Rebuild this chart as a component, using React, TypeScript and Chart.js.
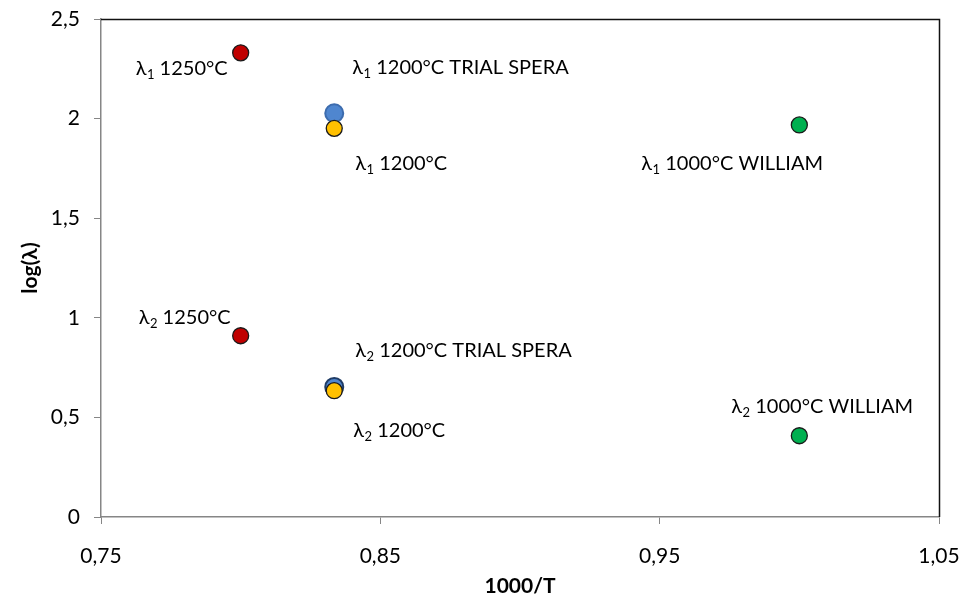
import React, { useEffect, useRef } from "react";
import { Chart, registerables } from "chart.js";

Chart.register(...registerables);

// Series names (temperature / source)
const seriesNames = ["1250°C", "1200°C TRIAL SPERA", "1200°C", "1000°C WILLIAM"];
// 1000/T for each series
const invTemp = [0.8, 0.8335, 0.8335, 1.0];
// log(λ1) and log(λ2) for each series
const logLambda1 = [2.33, 2.027, 1.951, 1.968];
const logLambda2 = [0.91, 0.653, 0.634, 0.408];
// Axis tick settings
const xTickValues = [0.75, 0.85, 0.95, 1.05];
const yTickStep = 0.5;

const FONT = "Lato, 'Open Sans', sans-serif";

// Marker styling per series
const markerStyles = [
  { fill: "#c00000", border: ["#1a1a1a", "#1a1a1a"], radius: 8, width: 1.3 },
  { fill: "#4f86cf", border: ["#3d6cae", "#1f3c66"], radius: 9, width: 2 },
  { fill: "#ffc000", border: ["#1a1a1a", "#1a1a1a"], radius: 8, width: 1.3 },
  { fill: "#00b050", border: ["#1a1a1a", "#1a1a1a"], radius: 8, width: 1.3 },
];
// Draw order: lower number is painted on top
const drawOrder = [0, 2, 1, 0];

// Label placement relative to its point: [dx to left edge, dy to text centre]
const labelOffsets = [
  [[-105, 15], [-102, -19]],
  [[18, -46], [21, -37]],
  [[21, 35], [19, 39]],
  [[-158, 38], [-68, -30]],
];

const fmt = (v: number, digits: number) => {
  const r = Math.round(v * 100) / 100;
  if (Number.isInteger(r)) return String(r);
  return r.toFixed(digits).replace(/0+$/, "").replace(".", ",");
};

const pointLabels = {
  id: "pointLabels",
  afterDatasetsDraw(chart: any) {
    const ctx = chart.ctx;
    ctx.save();
    ctx.fillStyle = "#000";
    ctx.textBaseline = "alphabetic";
    ctx.textAlign = "left";
    chart.data.datasets.forEach((ds: any, di: number) => {
      const meta = chart.getDatasetMeta(di);
      meta.data.forEach((pt: any, pi: number) => {
        const [dx, dy] = labelOffsets[di][pi];
        let x = pt.x + dx;
        const base = pt.y + dy + 7;
        ctx.font = `20px ${FONT}`;
        ctx.fillText("λ", x, base);
        x += ctx.measureText("λ").width;
        ctx.font = `13px ${FONT}`;
        ctx.fillText(String(pi + 1), x + 0.5, base + 4);
        x += ctx.measureText(String(pi + 1)).width + 0.5;
        ctx.font = `20px ${FONT}`;
        ctx.fillText(" " + seriesNames[di], x, base);
      });
    });
    ctx.restore();
  },
};

const frameLines = {
  id: "frameLines",
  beforeDatasetsDraw(chart: any) {
    const { ctx, chartArea } = chart;
    ctx.save();
    ctx.strokeStyle = "#111";
    ctx.lineWidth = 1.5;
    ctx.beginPath();
    ctx.moveTo(chartArea.left, chartArea.top + 0.5);
    ctx.lineTo(chartArea.right + 0.5, chartArea.top + 0.5);
    ctx.lineTo(chartArea.right + 0.5, chartArea.bottom);
    ctx.stroke();
    ctx.restore();
  },
};

export default function App() {
  const canvasRef = useRef<HTMLCanvasElement | null>(null);

  useEffect(() => {
    if (!canvasRef.current) return;
    const datasets = seriesNames.map((name, i) => ({
      label: name,
      data: [
        { x: invTemp[i], y: logLambda1[i] },
        { x: invTemp[i], y: logLambda2[i] },
      ],
      backgroundColor: markerStyles[i].fill,
      borderColor: markerStyles[i].border,
      borderWidth: markerStyles[i].width,
      pointRadius: markerStyles[i].radius,
      pointHoverRadius: markerStyles[i].radius,
      order: drawOrder[i],
    }));

    const chart = new Chart(canvasRef.current, {
      type: "scatter",
      data: { datasets },
      plugins: [frameLines, pointLabels],
      options: {
        animation: false,
        responsive: false,
        layout: { padding: { left: 0, top: 19, right: 25, bottom: 0 } },
        plugins: {
          legend: { display: false },
          tooltip: { enabled: false },
        },
        scales: {
          x: {
            type: "linear",
            min: xTickValues[0],
            max: xTickValues[xTickValues.length - 1],
            afterFit: (s: any) => {
              s.height = 80;
              s.paddingLeft = 0;
              s.paddingRight = 0;
            },
            afterBuildTicks: (s: any) => {
              s.ticks = xTickValues.map((v) => ({ value: v }));
            },
            ticks: {
              padding: 20,
              color: "#000",
              font: { family: FONT, size: 21 },
              callback: (v: any) => fmt(Number(v), 2),
            },
            grid: {
              drawOnChartArea: false,
              drawTicks: true,
              tickLength: 7,
              color: "#868686",
            },
            border: { color: "#868686", width: 1.5 },
            title: {
              display: true,
              text: "1000/T",
              color: "#000",
              font: { family: FONT, size: 21, weight: "bold", lineHeight: 1 },
              padding: { top: 0, bottom: 0 },
            },
          },
          y: {
            type: "linear",
            min: 0,
            max: 2.5,
            afterFit: (s: any) => {
              s.width = 101;
              s.paddingTop = 0;
              s.paddingBottom = 0;
            },
            ticks: {
              stepSize: yTickStep,
              padding: 14,
              color: "#000",
              font: { family: FONT, size: 21 },
              callback: (v: any) => fmt(Number(v), 1),
            },
            grid: {
              drawOnChartArea: false,
              drawTicks: true,
              tickLength: 7,
              color: "#868686",
            },
            border: { color: "#868686", width: 1.5 },
            title: {
              display: true,
              text: "log(λ)",
              color: "#000",
              font: { family: FONT, size: 21, weight: "bold" },
              padding: { top: 18, bottom: 0 },
            },
          },
        },
      },
    });
    return () => chart.destroy();
  }, []);

  return (
    <div style={{ position: "absolute", left: 0, top: 0, width: 964, height: 597, background: "#fff" }}>
      <canvas ref={canvasRef} width={964} height={597} style={{ display: "block" }} />
    </div>
  );
}
